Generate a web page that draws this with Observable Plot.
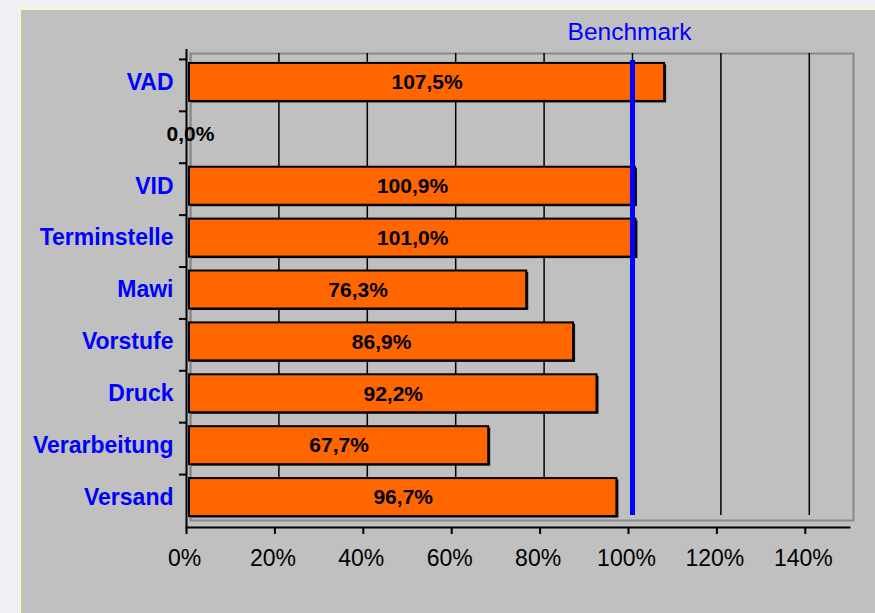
<!DOCTYPE html>
<html>
<head>
<meta charset="utf-8">
<script src="https://cdn.jsdelivr.net/npm/d3@7"></script>
<script src="https://cdn.jsdelivr.net/npm/@observablehq/plot@0.6"></script>
<style>
  html, body { margin: 0; padding: 0; width: 875px; height: 613px; overflow: hidden; background: #eef0f5; }
  #chart { position: absolute; left: 20px; top: 9px; border-left: 1px solid #ffff99; border-top: 1px solid #ffff99; background: #c0c0c0; width: 855px; height: 604px; }
  svg { display: block; }
</style>
</head>
<body>
<div id="chart"></div>
<script>
const categories = ["VAD", " ", "VID", "Terminstelle", "Mawi", "Vorstufe", "Druck", "Verarbeitung", "Versand"];
const values = [1.075, 0.0, 1.009, 1.010, 0.763, 0.869, 0.922, 0.677, 0.967];
const xTicks = [0, 0.2, 0.4, 0.6, 0.8, 1.0, 1.2, 1.4];
const benchmarkValue = [1.0];
const benchmarkLabel = ["Benchmark"];

const data = categories.map((c, i) => ({cat: c, value: values[i]}));
const fmt = v => (v * 100).toFixed(1).replace(".", ",") + "%";
const nonZero = data.filter(d => d.value !== 0);
const zero = data.filter(d => d.value === 0);

const chart = Plot.plot({
  width: 854,
  height: 603,
  marginLeft: 165,
  marginRight: 26,
  marginTop: 46,
  marginBottom: 90,
  style: {background: "#c0c0c0", fontFamily: "Liberation Sans, Arial, sans-serif", overflow: "visible"},
  x: {domain: [0, 1.5], axis: null, label: null},
  y: {domain: categories, paddingInner: 0.268, paddingOuter: 0.134, round: false, axis: null, label: null},
  marks: [
    // back wall (3D offset)
    Plot.frame({stroke: "#8a8a8a", strokeWidth: 2, dx: 4, dy: -3}),
    Plot.ruleX([0], {stroke: "#8a8a8a", strokeWidth: 2, dx: 4, insetTop: -3, insetBottom: 3}),
    Plot.ruleX(xTicks.slice(1), {stroke: "black", strokeWidth: 1.5, dx: 4, insetTop: -3, insetBottom: 8}),
    // bars
    Plot.barX(nonZero, {y: "cat", x: "value", fill: "#111", dx: 5, dy: 1.5}),
    Plot.barX(nonZero, {y: "cat", x: "value", fill: "#ff6600", stroke: "black", strokeWidth: 2, dx: 3}),
    Plot.ruleX(zero, {y: "cat", x: "value", stroke: "black", strokeWidth: 3, dx: 3}),
    // benchmark
    Plot.ruleX(benchmarkValue, {stroke: "#0000ff", strokeWidth: 5, dx: 4, insetTop: 4, insetBottom: 8}),
    Plot.text(benchmarkLabel, {x: () => benchmarkValue[0], text: d => d, frameAnchor: "top", lineAnchor: "middle", dy: -24, dx: 1, fill: "#0000ff", fontSize: 24.5}),
    // value labels
    Plot.text(nonZero, {y: "cat", x: d => d.value / 2, text: d => fmt(d.value), fontWeight: "bold", fontSize: 21, fill: "black", dx: 3}),
    Plot.text(zero, {y: "cat", x: "value", text: d => fmt(d.value), fontWeight: "bold", fontSize: 21, fill: "black", dx: 4}),
    // axes
    Plot.ruleX([0], {stroke: "black", strokeWidth: 2, insetTop: -7, insetBottom: -4}),
    Plot.frame({anchor: "bottom", stroke: "black", strokeWidth: 2, dy: 4}),
    Plot.axisX({ticks: xTicks, tickSize: 7, text: null, dy: 4, stroke: "black", strokeWidth: 2, label: null}),
    Plot.axisX({ticks: xTicks, tickFormat: d => Math.round(d * 100) + "%", tickSize: 0, tickPadding: 22, fontSize: 23, dy: 4, dx: -2, fill: "black", label: null}),
    Plot.axisY({tickSize: 7, text: null, dy: -23, stroke: "black", strokeWidth: 2, label: null}),
    Plot.axisY({tickSize: 0, tickPadding: 13, fontSize: 23, fontWeight: "bold", fill: "#0000ff", tickFormat: d => d.trim(), label: null})
  ]
});
document.getElementById("chart").appendChild(chart);
</script>
</body>
</html>
